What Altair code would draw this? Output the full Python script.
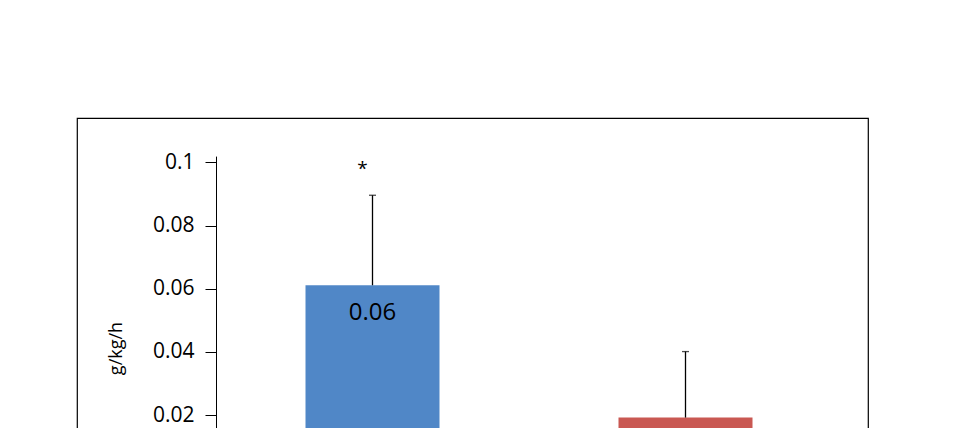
import altair as alt
import pandas as pd

categories = ["Group 1", "Group 2"]
means = [0.0611, 0.0192]
upper = [0.0896, 0.0401]
bar_labels = ["0.06", ""]
signif = ["*", ""]
colors = ["#5087C7", "#C95852"]

df = pd.DataFrame({
    "cat": categories,
    "mean": means,
    "upper": upper,
    "label": bar_labels,
    "sig": signif,
    "color": colors,
})

FONT = "Open Sans"

x = alt.X("cat:N", sort=categories,
          scale=alt.Scale(range=[139, 765], paddingInner=0, paddingOuter=0),
          axis=None)
yscale = alt.Scale(domain=[0, 0.102], range=[360.2, 38.1], nice=False, zero=True)

bars = alt.Chart(df).mark_bar(size=134).encode(
    x=x,
    y=alt.Y("mean:Q", scale=yscale,
            axis=alt.Axis(values=[0.02, 0.04, 0.06, 0.08, 0.1], format="~g",
                          offset=-139, grid=False, domainColor="black", tickColor="black",
                          tickSize=11, labelFontSize=21, labelFont=FONT, labelColor="black",
                          labelPadding=11, title="g/kg/h", titleFont=FONT, titleFontSize=18,
                          titleFontWeight="normal", titleColor="black",
                          titleX=-100, titleY=230, titleAngle=270, titleBaseline="middle",
                          titleAlign="center")),
    color=alt.Color("color:N", scale=None),
)

err = alt.Chart(df).mark_rule(color="black", strokeWidth=1.3).encode(
    x=x, y=alt.Y("mean:Q", scale=yscale), y2="upper:Q"
)
cap = alt.Chart(df).mark_tick(color="black", orient="horizontal", size=7, thickness=1.3).encode(
    x=x, y=alt.Y("upper:Q", scale=yscale)
)
lbl = alt.Chart(df).mark_text(font=FONT, fontSize=24, baseline="middle", dy=28, color="black").encode(
    x=x, y=alt.Y("mean:Q", scale=yscale), text="label:N"
)
star = alt.Chart(df).mark_text(font=FONT, fontSize=19, baseline="middle", dy=-26, dx=-10,
                               color="black").encode(
    x=x, y=alt.Y("upper:Q", scale=yscale), text="sig:N"
)

chart = alt.layer(bars, err, cap, lbl, star).properties(
    width=791, height=420,
    padding={"left": 69, "top": 110, "right": 5, "bottom": 5},
    background="white",
).configure_view(stroke="black", strokeWidth=1.2)

chart.save("out.html", embed_options={"renderer": "svg", "actions": False})
